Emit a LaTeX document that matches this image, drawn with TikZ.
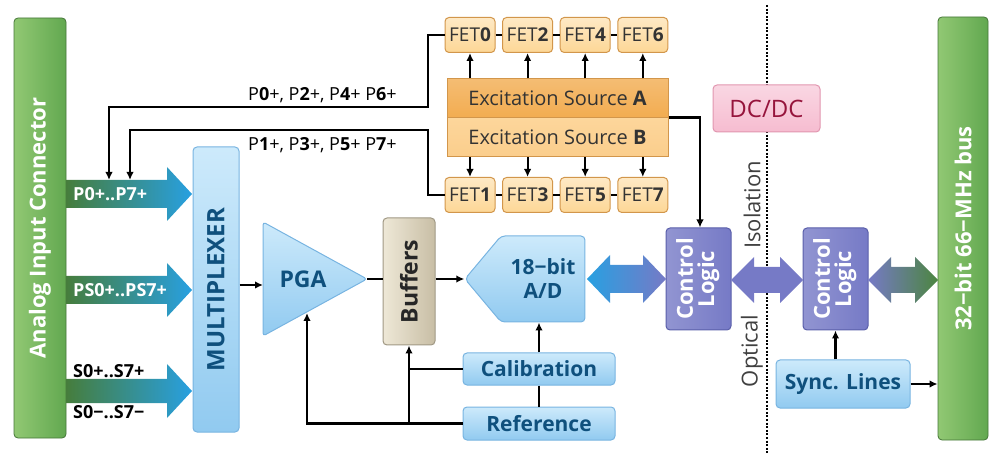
\documentclass[tikz,border=0pt]{standalone}
\usepackage{fontspec}
\setmainfont{Open Sans}
\usetikzlibrary{arrows.meta,positioning,calc,shapes.symbols}
\definecolor{BarGreen}{RGB}{98,168,80}
\definecolor{BarGreenL}{RGB}{145,200,115}
\definecolor{ArrGreen}{RGB}{70,125,60}
\definecolor{ArrBlue}{RGB}{40,160,225}
\definecolor{BoxBlueT}{RGB}{205,234,251}
\definecolor{BoxBlueB}{RGB}{145,202,240}
\definecolor{BoxBlueE}{RGB}{120,180,225}
\definecolor{TxtBlue}{RGB}{15,80,125}
\definecolor{LogicP}{RGB}{118,122,198}
\definecolor{LogicE}{RGB}{90,95,170}
\definecolor{FetFill}{RGB}{253,215,150}
\definecolor{FetEdge}{RGB}{210,150,75}
\definecolor{ExcA}{RGB}{242,172,80}
\definecolor{ExcB}{RGB}{253,214,155}
\definecolor{BufT}{RGB}{238,232,215}
\definecolor{BufB}{RGB}{200,190,165}
\definecolor{PinkF}{RGB}{246,188,208}
\definecolor{PinkE}{RGB}{225,150,175}
\definecolor{PinkT}{RGB}{150,20,60}
\newcommand{\fsz}[1]{\fontsize{#1}{#1}\selectfont}

\begin{document}
\begin{tikzpicture}[x=1pt,y=-1pt,
  link/.style={line width=2.2pt},
  tipd/.style={-{Latex[length=8pt,width=7.5pt]}},
  greenbar/.style={draw=BarGreen!70!black,line width=.8pt,rounded corners=4pt,left color=BarGreenL,right color=BarGreen,text=white,font=\fsz{22}\bfseries,inner sep=0pt},
  bluebox/.style={draw=BoxBlueE,line width=1pt,rounded corners=4pt,top color=BoxBlueT,bottom color=BoxBlueB,text=TxtBlue,font=\fsz{21}\bfseries,inner sep=1pt},
  logicbox/.style={draw=LogicE,line width=1pt,rounded corners=4pt,left color=LogicP!80!white,right color=LogicP,text=white,font=\fontsize{22}{22}\selectfont\bfseries,inner sep=0pt,minimum width=65,minimum height=102},
  fetbox/.style={draw=FetEdge,line width=1pt,rounded corners=4pt,top color=FetFill!55!white,bottom color=FetFill,text=black!80,font=\fsz{19},inner sep=0pt,minimum width=50,minimum height=35},
  excbox/.style={draw=FetEdge,line width=1pt,text=black!80,font=\fsz{20},inner sep=0pt,minimum width=221,minimum height=39},
  arrlbl/.style={anchor=west,font=\fsz{18}\bfseries,inner sep=0pt},
  isolbl/.style={rotate=90,font=\fsz{22},text=black!75}
]
\useasboundingbox (0,0) rectangle (991,454);

% isolation barrier
\draw[line width=2pt,dash pattern=on 2pt off 1.6pt] (767,5) -- (767,454);
\node[isolbl] (iso) at (752,205) {Isolation};
\node[isolbl] (opt) at (752,351) {Optical};

% connectors at both ends
\node[greenbar,minimum width=52,minimum height=420] (conn) at (40,228) {\rotatebox{90}{Analog Input Connector}};
\node[greenbar,minimum width=50,minimum height=423] (bus) at (963,228.5) {\rotatebox{90}{32−bit 66−MHz bus}};

% input channels
\shade[left color=ArrGreen,middle color=ArrGreen!75!ArrBlue,right color=ArrBlue]
  (66,180) -- (167,180) -- (167,167) -- (192,194) -- (167,221) -- (167,208) -- (66,208) -- cycle;
\shade[left color=ArrGreen,middle color=ArrGreen!75!ArrBlue,right color=ArrBlue]
  (66,276) -- (167,276) -- (167,263) -- (192,290) -- (167,317) -- (167,304) -- (66,304) -- cycle;
\shade[left color=ArrGreen,middle color=ArrGreen!75!ArrBlue,right color=ArrBlue]
  (66,379) -- (167,379) -- (167,364) -- (192,391) -- (167,418) -- (167,403) -- (66,403) -- cycle;
\node[arrlbl,text=white] (lp) at (73,194) {P0+..P7+};
\node[arrlbl,text=white] (lps) at (73,290) {PS0+..PS7+};
\node[arrlbl] (lsp) at (73,371) {S0+..S7+};
\node[arrlbl] (lsm) at (73,412) {S0−..S7−};
\coordinate (p0) at (109,180);
\coordinate (p1) at (130,180);

% signal chain
\node[bluebox,minimum width=46,minimum height=285,font=\fsz{24}\bfseries] (mux) at (216,289.5) {\rotatebox{90}{MULTIPLEXER}};
\shade[draw=BoxBlueE,line width=1pt,rounded corners=3pt,top color=BoxBlueT,bottom color=BoxBlueB]
  (263,222) -- (367,279) -- (263,336) -- cycle;
\node[text=TxtBlue,font=\fsz{23}\bfseries] (pga) at (303,279) {PGA};
\coordinate (pgain) at (263,285);
\coordinate (pgatip) at (367,279);
\coordinate (pgabot) at (307,313);
\node[draw=BufB!80!black,line width=1pt,rounded corners=4pt,left color=BufT,right color=BufB,text=black!85,font=\fsz{23}\bfseries,inner sep=0pt,minimum width=52,minimum height=127] (buf) at (409,281.5) {\rotatebox{90}{Buffers}};
\node[bluebox,signal,signal to=west,signal pointer angle=100,minimum width=120,minimum height=86,align=center,font=\fontsize{21}{24}\selectfont\bfseries] (ad) at (543,279) {18−bit\\A/D};
\node[bluebox,minimum width=152,minimum height=32] (cal) at (539,369) {Calibration};
\node[bluebox,minimum width=152,minimum height=33] (ref) at (539,423.5) {Reference};

% excitation and FET switches
\node[excbox,top color=ExcA!80!white,bottom color=ExcA] (exa) at (557.5,98.5) {Excitation Source \textbf{A}};
\node[excbox,top color=ExcB,bottom color=ExcB!80!ExcA] (exb) at (557.5,137.5) {Excitation Source \textbf{B}};
\foreach \i/\n/\m in {0/0/1,1/2/3,2/4/5,3/6/7}{
  \pgfmathsetmacro{\xp}{470+57.6*\i}
  \node[fetbox] (fet\n) at (\xp,35) {FET\textbf{\n}};
  \node[fetbox] (fet\m) at (\xp,195) {FET\textbf{\m}};
  \draw[link,tipd] (fet\n.south |- exa.north) -- (fet\n.south);
  \draw[link,tipd] (fet\m.north |- exb.south) -- (fet\m.north);
}
\foreach \a/\b in {0/2,2/4,4/6,1/3,3/5,5/7}
  \draw[link] (fet\a.east) -- (fet\b.west);

% isolated side
\node[logicbox] (cl1) at (698.5,279) {\rotatebox{90}{\begin{tabular}{@{}c@{}}Control\\[-2pt]Logic\end{tabular}}};
\node[logicbox] (cl2) at (835.5,279) {\rotatebox{90}{\begin{tabular}{@{}c@{}}Control\\[-2pt]Logic\end{tabular}}};
\node[draw=PinkE,line width=1pt,rounded corners=4pt,top color=PinkF!60!white,bottom color=PinkF,text=PinkT,font=\fsz{24},minimum width=107,minimum height=47] (dcdc) at (766.5,108.5) {DC/DC};
\node[bluebox,minimum width=134,minimum height=48] (sync) at (843,384) {Sync. Lines};

% data path
\shade[left color=ArrBlue,right color=LogicP]
  (587,279) -- (610,255) -- (610,265) -- (643,265) -- (643,255) -- (666,279) -- (643,303) -- (643,293) -- (610,293) -- (610,303) -- cycle;
\shade[left color=LogicP,right color=LogicP]
  (731,280) -- (754,257) -- (754,267) -- (780,267) -- (780,257) -- (803,280) -- (780,303) -- (780,293) -- (754,293) -- (754,303) -- cycle;
\shade[left color=LogicP,right color=ArrGreen!80!BarGreen]
  (868,280) -- (891,257) -- (891,267) -- (915,267) -- (915,257) -- (938,280) -- (915,303) -- (915,293) -- (891,293) -- (891,303) -- cycle;

% thin connections
\draw[link,tipd] (mux.east |- pgain) -- (pgain);
\draw[link] (pgatip) -- (pgatip -| buf.west);
\draw[link,tipd] (buf.east |- ad.west) -- (ad.west);
\draw[link,tipd] (cal.north) -- (cal.north |- ad.south);
\draw[link] (cal.south) -- (ref.north);
\draw[link,tipd] (ref.west) -| (pgabot);
\draw[link,tipd] (ref.west -| buf.south) -- (buf.south);
\draw[link] (cal.west) -- (cal.west -| buf.south);
\draw[link,tipd] (exb.north east) -| ($(cl1.north)+(1.5,0)$);
\draw[link,tipd] (cl2.south |- sync.north) -- (cl2.south);
\draw[link,tipd] (sync.east) -- (sync.east -| bus.west);
\coordinate (lo) at (428,107);
\coordinate (li) at (428,130);
\draw[link,tipd] (fet0.west) -| (lo) -| (p0);
\draw[link,tipd] (fet1.west) -| (li) -| (p1);
\node[anchor=west,font=\fsz{18},inner sep=0pt] (lba) at (248,95) {P\textbf{0}+, P\textbf{2}+, P\textbf{4}+ P\textbf{6}+};
\node[anchor=west,font=\fsz{18},inner sep=0pt] (lbb) at (248,145) {P\textbf{1}+, P\textbf{3}+, P\textbf{5}+ P\textbf{7}+};
\end{tikzpicture}
\end{document}
